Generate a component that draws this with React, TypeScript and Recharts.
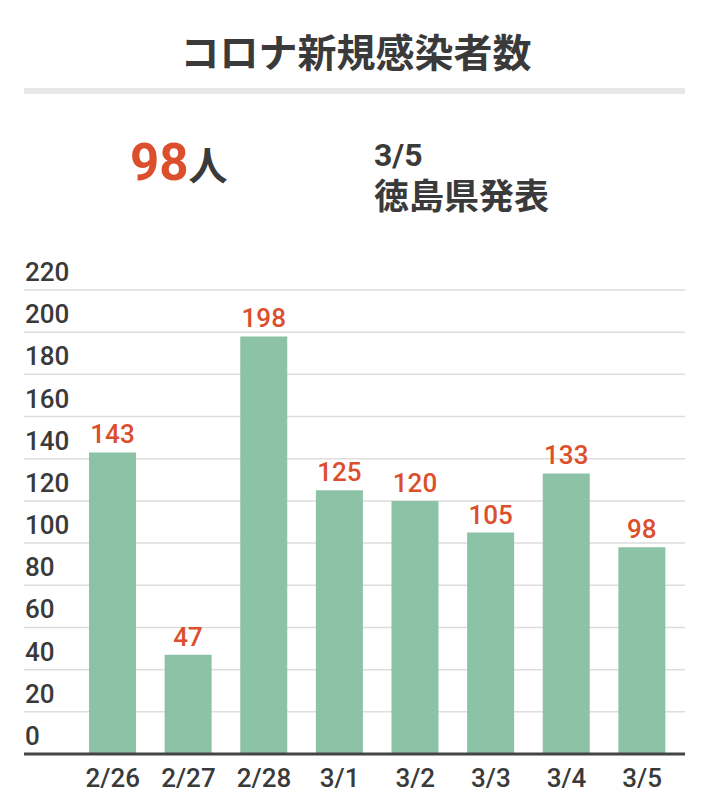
import { BarChart, Bar, XAxis, YAxis, CartesianGrid, LabelList } from 'recharts';

const dates = ['2/26', '2/27', '2/28', '3/1', '3/2', '3/3', '3/4', '3/5'];
const cases = [143, 47, 198, 125, 120, 105, 133, 98];
const yTicks = [0, 20, 40, 60, 80, 100, 120, 140, 160, 180, 200, 220];

const data = dates.map((d, i) => ({ date: d, count: cases[i] }));

const TEXT = '#3a3a3a';
const ACCENT = '#dc4f2c';
const BAR = '#8cc2a6';
const NUM_FONT = 'Roboto, "Noto Sans", sans-serif';
const JP_FONT = '"Noto Sans CJK JP", sans-serif';

const YTick = (props: any) => {
    const { y, payload } = props;
    return (
        <text x={25} y={y - 9} fontSize={26} fontWeight={500} fill={TEXT} fontFamily={NUM_FONT} textAnchor="start">
            {payload.value}
        </text>
    );
};

const XTick = (props: any) => {
    const { x, y, payload } = props;
    return (
        <text x={x} y={y + 25} fontSize={26} fontWeight={500} fill={TEXT} fontFamily={NUM_FONT} textAnchor="middle">
            {payload.value}
        </text>
    );
};

const App = () => {
    return (
        <div style={{ position: 'absolute', left: 0, top: 0, width: 712, height: 798, background: '#fff' }}>
            <svg width={712} height={240} style={{ position: 'absolute', left: 0, top: 0 }}>
                <text x={356} y={67} textAnchor="middle" fontSize={39} fontWeight={700} fill={TEXT} fontFamily={JP_FONT}>
                    コロナ新規感染者数
                </text>
                <rect x={24} y={88} width={661} height={6} fill="#e8e8e8" />
                <text x={130} y={180} fontFamily={NUM_FONT} fontWeight={700}>
                    <tspan fontSize={51} fill={ACCENT}>98</tspan>
                    <tspan fontSize={39} fill={TEXT} fontFamily={JP_FONT}>人</tspan>
                </text>
                <text x={374} y={166} fontSize={32} fontWeight={700} fill={TEXT} fontFamily={NUM_FONT}>
                    3/5
                </text>
                <text x={374} y={209} fontSize={35} fontWeight={700} fill={TEXT} fontFamily={JP_FONT}>
                    徳島県発表
                </text>
            </svg>
            <div style={{ position: 'absolute', left: 0, top: 0 }}>
                <BarChart width={712} height={798} data={data} margin={{ top: 290, right: 27, bottom: 0, left: 22 }}>
                    <CartesianGrid vertical={false} stroke="#dddddd" strokeWidth={1.5} />
                    <XAxis
                        dataKey="date"
                        height={44}
                        padding={{ left: 51, right: 5 }}
                        axisLine={{ stroke: '#444', strokeWidth: 3 }}
                        tickLine={false}
                        tick={<XTick />}
                        interval={0}
                    />
                    <YAxis
                        width={2}
                        domain={[0, 220]}
                        ticks={yTicks}
                        interval={0}
                        axisLine={false}
                        tickLine={false}
                        tick={<YTick />}
                    />
                    <Bar dataKey="count" fill={BAR} barSize={47} isAnimationActive={false}>
                        <LabelList
                            dataKey="count"
                            position="top"
                            offset={9}
                            fill={ACCENT}
                            fontSize={26}
                            fontWeight={500}
                            fontFamily={NUM_FONT}
                        />
                    </Bar>
                </BarChart>
            </div>
        </div>
    );
};

export default App;
